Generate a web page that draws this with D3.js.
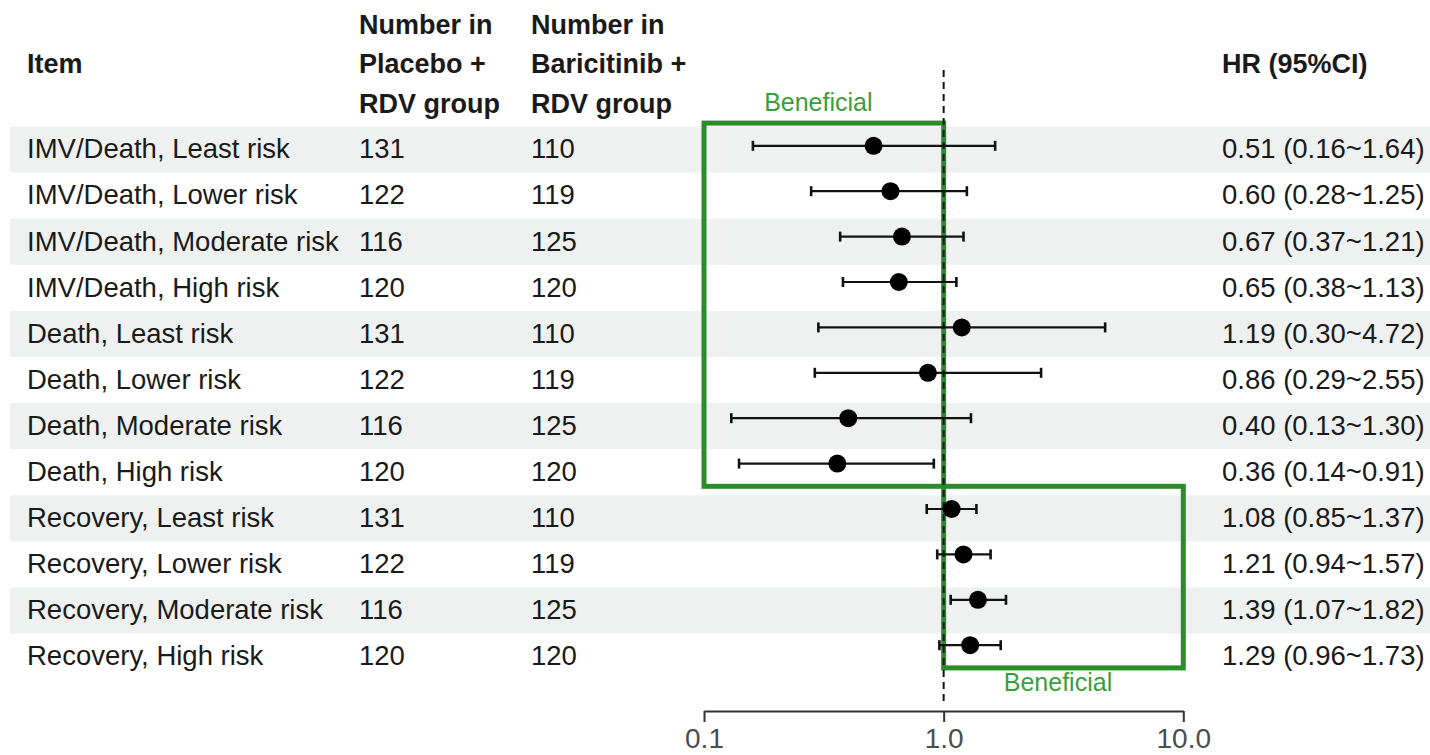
<!DOCTYPE html>
<html>
<head>
<meta charset="utf-8">
<script src="https://cdn.jsdelivr.net/npm/d3@7"></script>
<style>
  html, body { margin: 0; padding: 0; background: #fff; }
  svg { display: block; font-family: "Liberation Sans", Arial, Helvetica, sans-serif; }
</style>
</head>
<body>
<svg id="chart" width="1430" height="755"></svg>
<script>
// ---- data ----
const items = [
  "IMV/Death, Least risk", "IMV/Death, Lower risk", "IMV/Death, Moderate risk", "IMV/Death, High risk",
  "Death, Least risk", "Death, Lower risk", "Death, Moderate risk", "Death, High risk",
  "Recovery, Least risk", "Recovery, Lower risk", "Recovery, Moderate risk", "Recovery, High risk"
];
const placeboN = [131, 122, 116, 120, 131, 122, 116, 120, 131, 122, 116, 120];
const baricitinibN = [110, 119, 125, 120, 110, 119, 125, 120, 110, 119, 125, 120];
const hr    = [0.51, 0.60, 0.67, 0.65, 1.19, 0.86, 0.40, 0.36, 1.08, 1.21, 1.39, 1.29];
const lower = [0.16, 0.28, 0.37, 0.38, 0.30, 0.29, 0.13, 0.14, 0.85, 0.94, 1.07, 0.96];
const upper = [1.64, 1.25, 1.21, 1.13, 4.72, 2.55, 1.30, 0.91, 1.37, 1.57, 1.82, 1.73];
const tickValues = [0.1, 1, 10];
const headerItem = ["Item"];
const headerPlacebo = ["Number in", "Placebo +", "RDV group"];
const headerBari = ["Number in", "Baricitinib +", "RDV group"];
const headerHR = ["HR (95%CI)"];
const benefitLabel = "Beneficial";
// beneficial regions in row units (row centers at 0..11)
const boxes = [
  { x0: 0.1, x1: 1, r0: -0.5, r1: 7.5, labelX: 0.3, labelPos: "top" },
  { x0: 1, x1: 10, r0: 7.5, r1: 11.5, labelX: 3.0, labelPos: "bottom" }
];

// ---- layout ----
const svg = d3.select("#chart");
const W = 1430;
const rowTop = 126.5, rowStep = 46.1;
const tableY = i => rowTop + rowStep * i;           // top of table row i
const x = d3.scaleLog().domain([0.1, 10]).range([704, 1183.3]);
const y = d3.scaleLinear().domain([0, 11]).range([145.8, 145.8 + 45.4 * 11]); // plot rows
const fmt = d3.format(".2f");
const textColor = "#1a1a1a";
const fs = 27.5;

// stripes
svg.append("g").selectAll("rect")
  .data(items.map((d, i) => i).filter(i => i % 2 === 0))
  .join("rect")
  .attr("x", 10).attr("width", W - 10)
  .attr("y", i => tableY(i)).attr("height", rowStep)
  .attr("fill", "#eef1ef");

// header
const cols = [
  { x: 27, lines: headerItem, start: 1 },
  { x: 359, lines: headerPlacebo, start: 0 },
  { x: 531, lines: headerBari, start: 0 },
  { x: 1222, lines: headerHR, start: 1 }
];
const headerBaselines = [33.5, 72.5, 112.5];
const hg = svg.append("g").attr("font-weight", "bold").attr("font-size", 27).attr("fill", textColor);
cols.forEach(c => {
  c.lines.forEach((t, k) => {
    hg.append("text").attr("x", c.x).attr("y", headerBaselines[c.start + k]).text(t);
  });
});

// table body
const tg = svg.append("g").attr("font-size", fs).attr("fill", textColor);
items.forEach((d, i) => {
  const b = tableY(i) + 31.8;
  tg.append("text").attr("x", 27).attr("y", b).text(d);
  tg.append("text").attr("x", 359).attr("y", b).text(placeboN[i]);
  tg.append("text").attr("x", 531).attr("y", b).text(baricitinibN[i]);
  tg.append("text").attr("x", 1222).attr("y", b)
    .text(`${fmt(hr[i])} (${fmt(lower[i])}~${fmt(upper[i])})`);
});

// beneficial boxes
const green = "#2a8c2a";
const bg = svg.append("g");
boxes.forEach(bx => {
  bg.append("rect")
    .attr("x", x(bx.x0)).attr("width", x(bx.x1) - x(bx.x0))
    .attr("y", y(bx.r0)).attr("height", y(bx.r1) - y(bx.r0))
    .attr("fill", "none").attr("stroke", green).attr("stroke-width", 5);
  bg.append("text")
    .attr("x", x(bx.labelX))
    .attr("y", bx.labelPos === "top" ? y(bx.r0) - 12.5 : y(bx.r1) + 23)
    .attr("text-anchor", "middle")
    .attr("font-size", 25)
    .attr("fill", "#3a9f3a")
    .text(benefitLabel);
});

// reference dashed line
svg.append("line")
  .attr("x1", x(1)).attr("x2", x(1))
  .attr("y1", 70).attr("y2", 703)
  .attr("stroke", "#111").attr("stroke-width", 2)
  .attr("stroke-dasharray", "7,5");

// error bars
const eg = svg.append("g").attr("stroke", "#111").attr("stroke-width", 2.2);
items.forEach((d, i) => {
  const yy = y(i);
  eg.append("line").attr("x1", x(lower[i])).attr("x2", x(upper[i])).attr("y1", yy).attr("y2", yy);
  [lower[i], upper[i]].forEach(v => {
    eg.append("line").attr("x1", x(v)).attr("x2", x(v)).attr("y1", yy - 5).attr("y2", yy + 5)
      .attr("stroke-width", 2.6);
  });
});
svg.append("g").selectAll("circle")
  .data(hr)
  .join("circle")
  .attr("cx", d => x(d)).attr("cy", (d, i) => y(i)).attr("r", 9)
  .attr("fill", "#000");

// axis
const axis = d3.axisBottom(x)
  .tickValues(tickValues)
  .tickFormat(d3.format(".1f"))
  .tickSize(11)
  .tickSizeOuter(0)
  .tickPadding(6);
const ag = svg.append("g").attr("transform", "translate(0,711)").call(axis);
ag.select(".domain").attr("stroke", "#333").attr("stroke-width", 2);
ag.selectAll(".tick line").attr("stroke", "#333").attr("stroke-width", 2);
ag.selectAll(".tick text")
  .attr("font-size", 28)
  .attr("font-family", "Liberation Sans, Arial, sans-serif")
  .attr("fill", "#4d4d4d");
</script>
</body>
</html>
